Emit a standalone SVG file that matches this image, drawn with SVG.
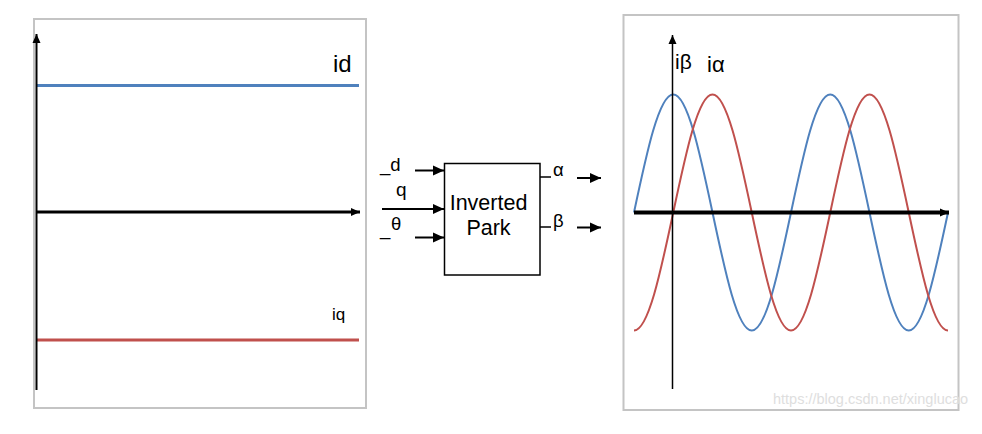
<svg xmlns="http://www.w3.org/2000/svg" width="982" height="434" viewBox="0 0 982 434">
<defs>
<style>
.frame{fill:#fff;stroke:#c4c4c4;stroke-width:2}
.ax{stroke:#000;fill:none}
.blue{stroke:#4f81bd;fill:none}
.red{stroke:#c0504d;fill:none}
.t{font-family:"Liberation Sans",Arial,sans-serif;fill:#000}
.conn{stroke:#000;stroke-width:2;fill:none}
</style>
<marker id="ah" markerUnits="userSpaceOnUse" markerWidth="12" markerHeight="11" refX="11" refY="5.5" orient="auto">
<path d="M0,0.5 L11,5.5 L0,10.5 z" fill="#000"/>
</marker>
<marker id="axh" markerUnits="userSpaceOnUse" markerWidth="10" markerHeight="9" refX="9" refY="4.5" orient="auto">
<path d="M0,0.5 L9,4.5 L0,8.5 z" fill="#000"/>
</marker>
</defs>
<rect width="982" height="434" fill="#fff"/>

<g id="left-plot">
<rect class="frame" x="34" y="19" width="332" height="389"/>
<line class="blue" x1="36" y1="85.5" x2="359" y2="85.5" stroke-width="3"/>
<line class="red" x1="36" y1="340" x2="359" y2="340" stroke-width="3"/>
<line class="ax" x1="36.5" y1="390" x2="36.5" y2="34" stroke-width="2" marker-end="url(#axh)"/>
<line class="ax" x1="36" y1="212" x2="360" y2="212" stroke-width="3" marker-end="url(#axh)"/>
<text class="t" x="333" y="72" font-size="24">id</text>
<text class="t" x="332" y="320" font-size="17">iq</text>
</g>

<g id="inverted-park">
<rect x="444.5" y="163.5" width="95.5" height="111.5" fill="#fff" stroke="#000" stroke-width="1.5"/>
<text class="t" x="488.5" y="210" font-size="21.5" text-anchor="middle">Inverted</text>
<text class="t" x="488.5" y="235" font-size="21.5" text-anchor="middle">Park</text>
</g>

<g id="labels">
<text class="t" x="380" y="171" font-size="18.5">_d</text>
<text class="t" x="396" y="196" font-size="19">q</text>
<text class="t" x="380" y="235" font-size="18.5">_</text>
<text class="t" x="391" y="229.5" font-size="18.5">θ</text>
<text class="t" x="553" y="176" font-size="18.5">α</text>
<text class="t" x="553" y="227" font-size="18.5">β</text>
</g>

<g id="connectors">
<line class="conn" x1="415" y1="170.5" x2="444" y2="170.5" marker-end="url(#ah)"/>
<line class="conn" x1="382" y1="209" x2="444" y2="209" marker-end="url(#ah)"/>
<line class="conn" x1="415" y1="237.5" x2="444" y2="237.5" marker-end="url(#ah)"/>
<line x1="540" y1="177" x2="551" y2="177" stroke="#000" stroke-width="1.5"/>
<line x1="540" y1="227" x2="551" y2="227" stroke="#000" stroke-width="1.5"/>
<line class="conn" x1="577" y1="178" x2="601" y2="178" marker-end="url(#ah)"/>
<line class="conn" x1="577" y1="227.5" x2="601" y2="227.5" marker-end="url(#ah)"/>
</g>

<g id="right-plot">
<rect class="frame" x="623.5" y="15" width="335" height="395"/>
<path class="blue" stroke-width="2" d="M634,212.5 C646.8,152.05 659.06,94.5 673.25,94.5 C687.44,94.5 699.7,152.05 712.5,212.5 C725.3,272.95 737.56,330.5 751.75,330.5 C765.94,330.5 778.2,272.95 791,212.5 C803.8,152.05 816.06,94.5 830.25,94.5 C844.44,94.5 856.7,152.05 869.5,212.5 C882.3,272.95 894.56,330.5 908.75,330.5 C922.94,330.5 935.2,272.95 948,212.5"/>
<path class="red" stroke-width="2" d="M634,330.5 C648.19,330.5 660.45,272.95 673.25,212.5 C686.05,152.05 698.31,94.5 712.5,94.5 C726.69,94.5 738.95,152.05 751.75,212.5 C764.55,272.95 776.81,330.5 791,330.5 C805.19,330.5 817.45,272.95 830.25,212.5 C843.05,152.05 855.31,94.5 869.5,94.5 C883.69,94.5 895.95,152.05 908.75,212.5 C921.55,272.95 933.81,330.5 948,330.5"/>
<line class="ax" x1="672.5" y1="389" x2="672.5" y2="35" stroke-width="1.5" marker-end="url(#axh)"/>
<line class="ax" x1="634" y1="212.5" x2="949" y2="212.5" stroke-width="4" marker-end="url(#axh)"/>
<text class="t" x="675" y="69" font-size="21">iβ</text>
<text class="t" x="707" y="72" font-size="22">iα</text>
</g>

<text x="773" y="404" font-family="'Liberation Sans',Arial,sans-serif" font-size="14.5" fill="#dedede">https://blog.csdn.net/xinglucao</text>
</svg>
